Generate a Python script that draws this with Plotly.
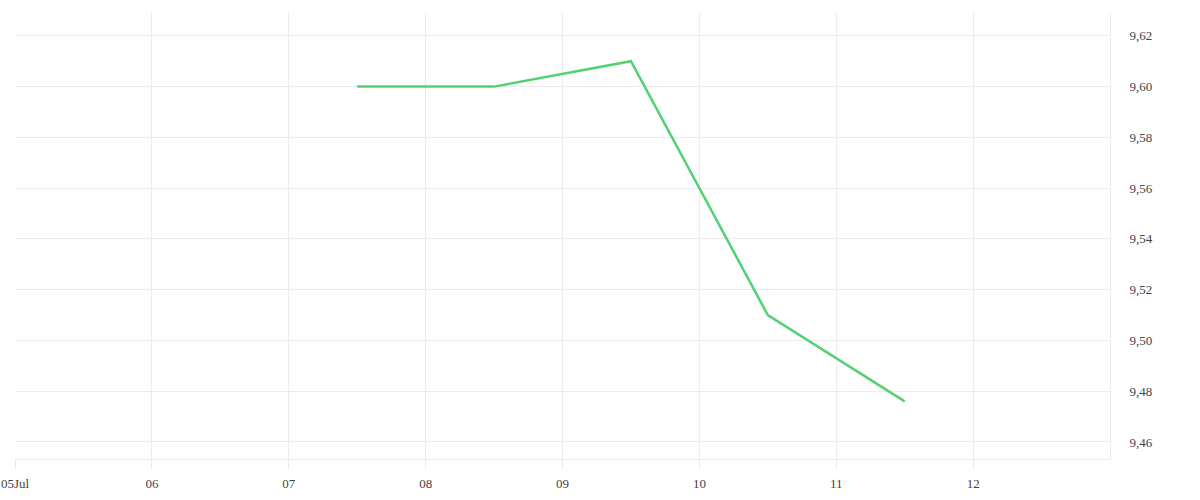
import plotly.graph_objects as go

# daily closing values (plotted at midday)
dates = ["2024-07-07 12:00", "2024-07-08 12:00", "2024-07-09 12:00",
         "2024-07-10 12:00", "2024-07-11 12:00"]
values = [9.60, 9.60, 9.61, 9.51, 9.476]

tick_dates = ["2024-07-05", "2024-07-06", "2024-07-07", "2024-07-08",
              "2024-07-09", "2024-07-10", "2024-07-11", "2024-07-12"]
tick_labels = ["05Jul", "06", "07", "08", "09", "10", "11", "12"]

grid = "#ececec"

fig = go.Figure()
fig.add_trace(go.Scatter(
    x=dates, y=values, mode="lines",
    line=dict(color="#52d273", width=2.5),
    hoverinfo="x+y",
))

fig.update_layout(
    width=1200, height=500,
    margin=dict(l=15, r=90, t=13, b=41),
    paper_bgcolor="white", plot_bgcolor="white",
    separators=",.",
    showlegend=False,
    font=dict(family="Liberation Serif", size=13, color="#444"),
)
fig.update_xaxes(
    range=["2024-07-05", "2024-07-13"],
    tickvals=tick_dates, ticktext=tick_labels,
    showgrid=True, gridcolor=grid, gridwidth=1,
    showline=True, linecolor=grid, linewidth=1,
    ticks="outside", ticklen=9, tickcolor=grid,
    ticklabelstandoff=3, ticklabeloverflow="allow",
    automargin=False, zeroline=False,
)
fig.update_yaxes(
    side="right", range=[9.4533, 9.629],
    dtick=0.02, tickformat=".2f",
    showgrid=True, gridcolor=grid, gridwidth=1,
    showline=True, linecolor=grid, linewidth=1,
    ticks="outside", ticklen=16, tickcolor="white",
    automargin=False, zeroline=False,
)

# drop the default page margin so the chart sits at the window corner
fig.write_html(
    "out.html",
    config={"displayModeBar": False},
    post_script="document.body.style.margin='0';",
)
